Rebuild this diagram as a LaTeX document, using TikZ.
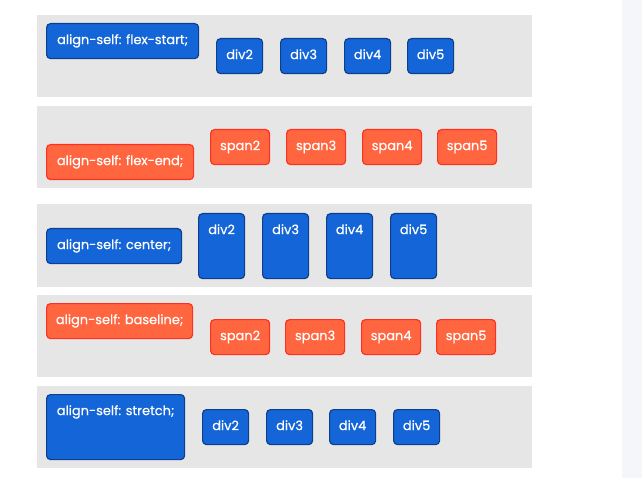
\documentclass[tikz,border=0pt]{standalone}
\usepackage{fontspec}
\setmainfont{Poppins}
\newfontfamily\boxfont{Poppins}[FakeBold=0.5]
\usetikzlibrary{positioning,calc}

\definecolor{panelgray}{HTML}{E6E6E6}
\definecolor{sidegray}{HTML}{F5F6FA}
\definecolor{divblue}{HTML}{1466D8}
\definecolor{divborder}{HTML}{0E3F8C}
\definecolor{spanorange}{HTML}{FF6640}
\definecolor{spanborder}{HTML}{FF3020}

\tikzset{
  panel/.style={fill=panelgray},
  box/.style={rounded corners=4bp, line width=1.2bp, text=white,
    font=\boxfont\fontsize{13}{15}\selectfont, anchor=north west,
    inner xsep=0pt, inner ysep=11.5bp, text height=9bp, text depth=3bp},
  tall/.style={text depth=33bp},
  divbox/.style={box, fill=divblue, draw=divborder, minimum width=46bp},
  spanbox/.style={box, fill=spanorange, draw=spanborder, minimum width=59bp},
}

\begin{document}
\begin{tikzpicture}[x=1bp,y=-1bp]

  \useasboundingbox[fill=white] (0,0) rectangle (642,478);
  \fill[sidegray] (622,0) rectangle (642,478);

  % rows
  \foreach \t/\b in {15/97,106/188,204/287,295/377,386/468}{
    \fill[panel] (37,\t) rectangle (532,\b);
  }

  % flex-start
  \node[divbox, minimum width=152bp] (start) at (46,23) {align-self: flex-start;};
  \foreach \i/\x in {2/216,3/280,4/344,5/407}{
    \node[divbox] (start\i) at (\x,38) {div\i};
  }

  % flex-end
  \node[spanbox, minimum width=147bp] (end) at (46,144) {align-self: flex-end;};
  \foreach \i/\x in {2/210,3/286,4/362,5/437}{
    \node[spanbox] (end\i) at (\x,129) {span\i};
  }

  % center
  \node[divbox, minimum width=135bp] (center) at (46,228) {align-self: center;};
  \foreach \i/\x in {2/198,3/262,4/326,5/390}{
    \node[divbox, tall] (center\i) at (\x,213) {div\i};
  }

  % baseline
  \node[spanbox, minimum width=146bp] (baseline) at (46,303) {align-self: baseline;};
  \foreach \i/\x in {2/210,3/285,4/361,5/436}{
    \node[spanbox] (baseline\i) at (\x,319) {span\i};
  }

  % stretch
  \node[divbox, tall, minimum width=138bp] (stretch) at (46,394) {align-self: stretch;};
  \foreach \i/\x in {2/202,3/266,4/329,5/393}{
    \node[divbox] (stretch\i) at (\x,409) {div\i};
  }

\end{tikzpicture}
\end{document}
